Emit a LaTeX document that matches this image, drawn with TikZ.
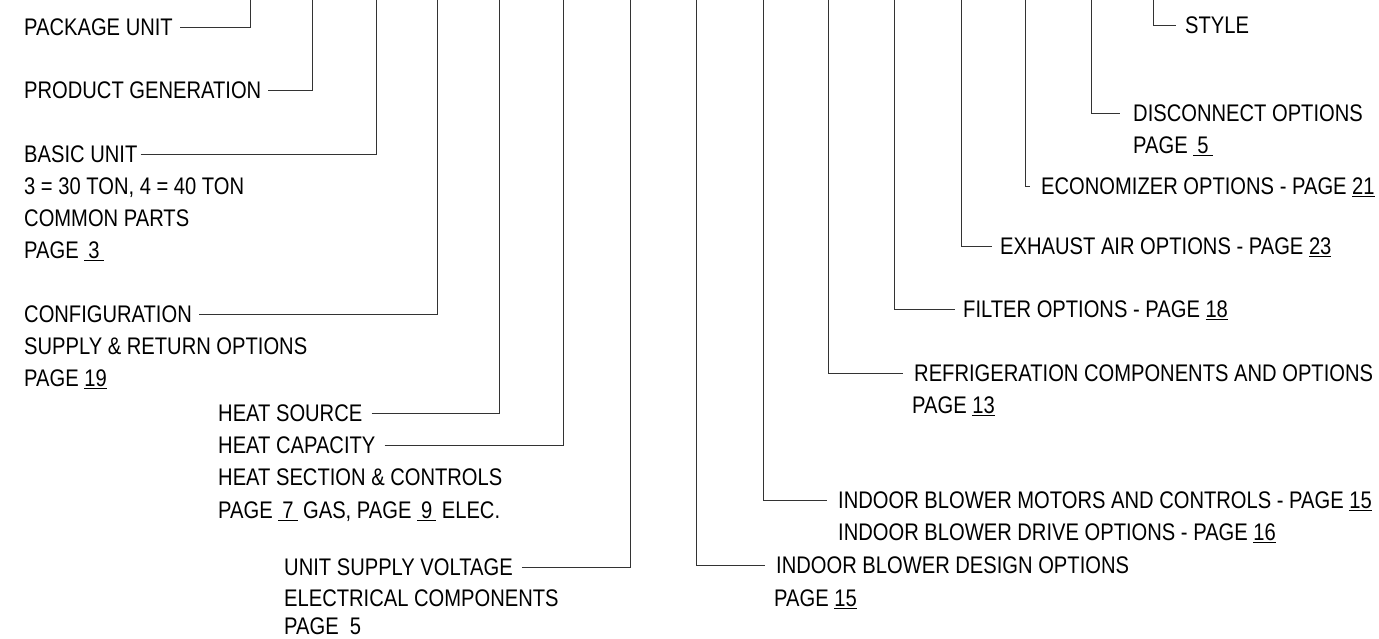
\documentclass[tikz,border=0pt]{standalone}
\usepackage{fontspec}
\setmainfont{Liberation Sans}[FakeStretch=0.84]
\begin{document}
\begin{tikzpicture}[x=1pt,y=-1pt,
  lab/.style={anchor=west,inner sep=0pt,text height=17.2pt,text depth=0pt,
    font=\fontsize{24}{28}\selectfont},
  ln/.style={line width=0.9pt,draw=black!80}]
\useasboundingbox (0,0) rectangle (1379,639);
% ---- top ends of the connectors
\coordinate (t1) at (250,0);
\coordinate (t2) at (312,0);
\coordinate (t3) at (376,0);
\coordinate (t4) at (437,0);
\coordinate (t5) at (499,0);
\coordinate (t6) at (563,0);
\coordinate (t7) at (630,0);
\coordinate (t8) at (696,0);
\coordinate (t9) at (763,0);
\coordinate (t10) at (828,0);
\coordinate (t11) at (894,0);
\coordinate (t12) at (961,0);
\coordinate (t13) at (1025,0);
\coordinate (t14) at (1091,0);
\coordinate (t15) at (1153,0);
% ---- left labels
\node[lab] (pkg) at (24,27) {PACKAGE UNIT};
\node[lab] (gen) at (24,90) {PRODUCT GENERATION};
\node[lab] (bas) at (24,154) {BASIC UNIT};
\node[lab] (ton) at (24,186) {3 = 30 TON, 4 = 40 TON};
\node[lab] (com) at (24,218) {COMMON PARTS};
\node[lab] (p3) at (24,250) {PAGE \underline{\,3\,}};
\node[lab] (cfg) at (24,314) {CONFIGURATION};
\node[lab] (sup) at (24,346) {SUPPLY \& RETURN OPTIONS};
\node[lab] (p19) at (24,378) {PAGE \underline{19}};
\node[lab] (hsrc) at (218,413) {HEAT SOURCE};
\node[lab] (hcap) at (218,445) {HEAT CAPACITY};
\node[lab] (hsec) at (218,477) {HEAT SECTION \& CONTROLS};
\node[lab] (p7) at (218,510) {PAGE \underline{\,7\,} GAS, PAGE \underline{\,9\,} ELEC.};
\node[lab] (usv) at (284,567) {UNIT SUPPLY VOLTAGE};
\node[lab] (elc) at (284,598) {ELECTRICAL COMPONENTS};
\node[lab] (p5a) at (284,626) {PAGE \ 5};
% ---- right labels
\node[lab] (sty) at (1185,25) {STYLE};
\node[lab] (dis) at (1133,113) {DISCONNECT OPTIONS};
\node[lab] (p5b) at (1133,145) {PAGE \underline{\,5\,}};
\node[lab] (eco) at (1041,186) {ECONOMIZER OPTIONS - PAGE \underline{21}};
\node[lab] (exh) at (1000,246) {EXHAUST AIR OPTIONS - PAGE \underline{23}};
\node[lab] (fil) at (963,309) {FILTER OPTIONS - PAGE \underline{18}};
\node[lab] (ref) at (914,373) {REFRIGERATION COMPONENTS AND OPTIONS};
\node[lab] (p13) at (912,405) {PAGE \underline{13}};
\node[lab] (mot) at (838,500) {INDOOR BLOWER MOTORS AND CONTROLS - PAGE \underline{15}};
\node[lab] (drv) at (838,532) {INDOOR BLOWER DRIVE OPTIONS - PAGE \underline{16}};
\node[lab] (des) at (776,565) {INDOOR BLOWER DESIGN OPTIONS};
\node[lab] (p15) at (774,598) {PAGE \underline{15}};
% ---- left connectors
\draw[ln] ([xshift=7pt]pkg.east) -| (t1);
\draw[ln] ([xshift=7pt]gen.east) -| (t2);
\draw[ln] ([xshift=3pt]bas.east) -| (t3);
\draw[ln] ([xshift=7pt]cfg.east) -| (t4);
\draw[ln] ([xshift=9pt]hsrc.east) -| (t5);
\draw[ln] ([xshift=9pt]hcap.east) -| (t6);
\draw[ln] ([xshift=9pt]usv.east) -| (t7);
% ---- right connectors
\draw[ln] (t8) |- ([xshift=-11pt]des.west);
\draw[ln] (t9) |- ([xshift=-11pt]mot.west);
\draw[ln] (t10) |- ([xshift=-11pt]ref.west);
\draw[ln] (t11) |- ([xshift=-8pt]fil.west);
\draw[ln] (t12) |- ([xshift=-8pt]exh.west);
\draw[ln] (t13) |- ([xshift=-11pt]eco.west);
\draw[ln] (t14) |- ([xshift=-13pt]dis.west);
\draw[ln] (t15) |- ([xshift=-9pt]sty.west);
\end{tikzpicture}
\end{document}
